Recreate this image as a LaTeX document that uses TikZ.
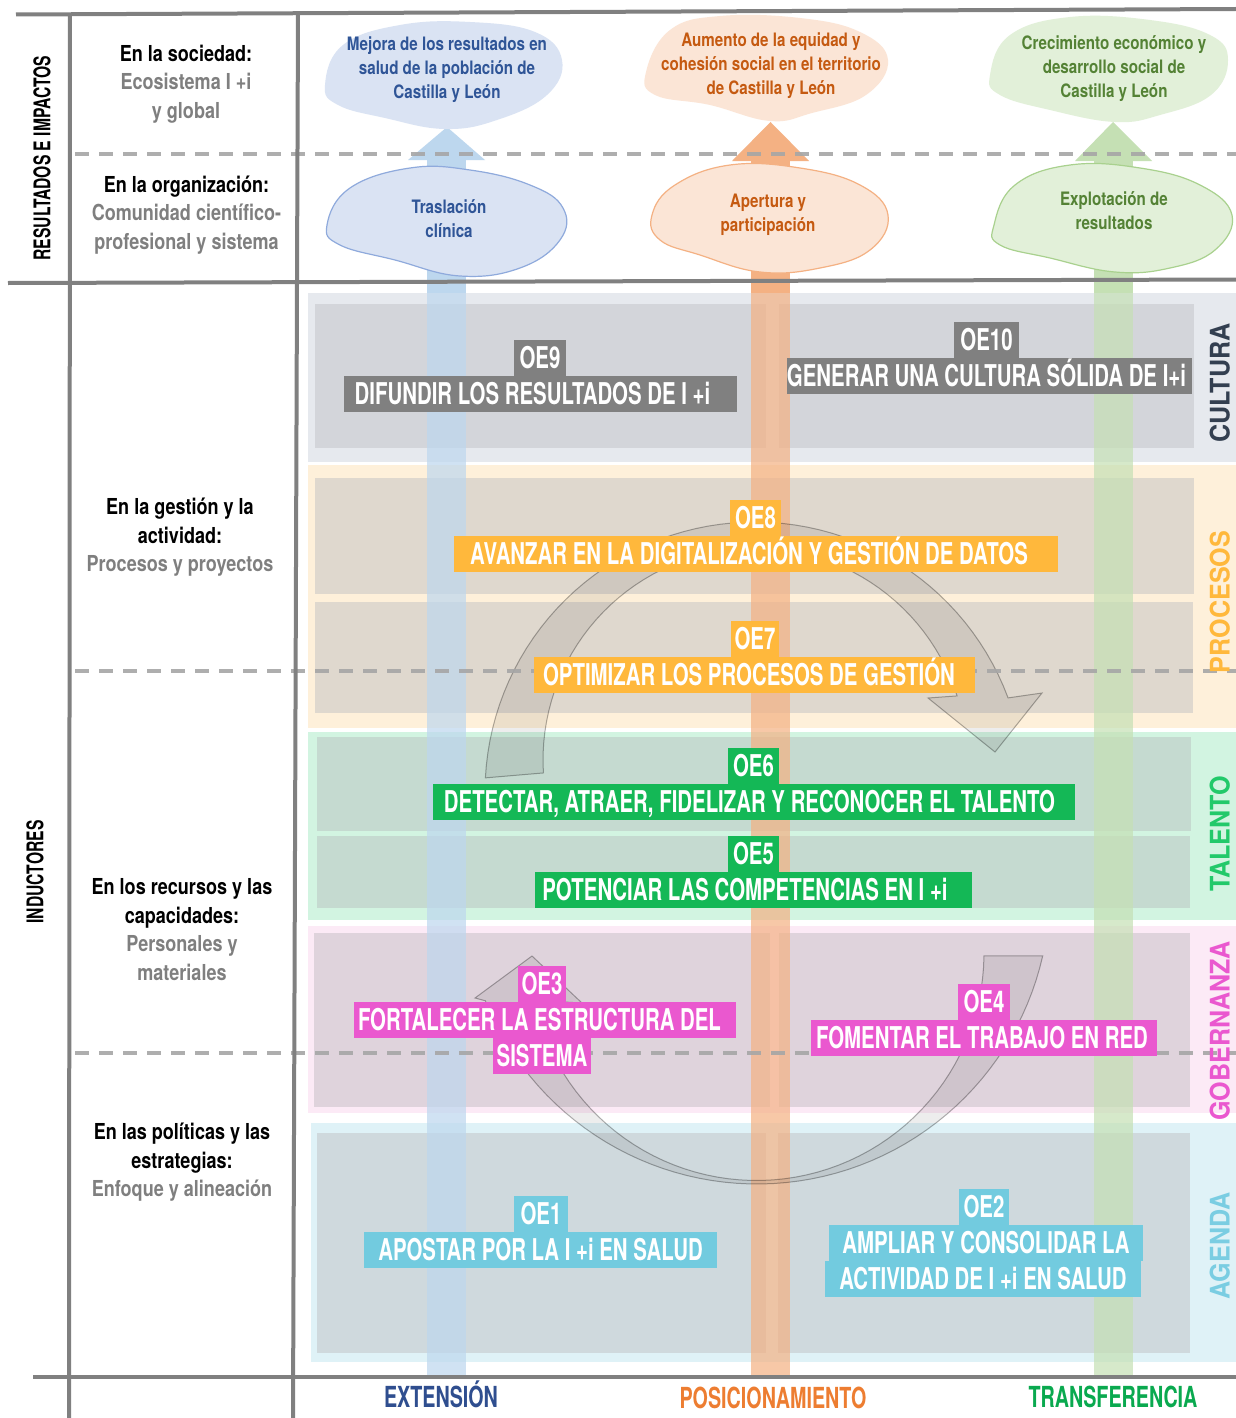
\documentclass[tikz,border=0pt]{standalone}
\usepackage{fontspec}
\setmainfont{TeX Gyre Heros}
\newfontfamily\cnd[FakeStretch=0.68]{TeX Gyre Heros}
\newfontfamily\cndw[FakeStretch=0.82]{TeX Gyre Heros}
\newfontfamily\hvb[FakeStretch=0.93]{TeX Gyre Heros}
\definecolor{lgray}{HTML}{808080}
\definecolor{dgray}{HTML}{A6A6A6}
\definecolor{txtgray}{HTML}{7F7F7F}
\definecolor{cultO}{HTML}{E6E9EE}
\definecolor{cultI}{HTML}{D3D5DA}
\definecolor{cultL}{HTML}{808080}
\definecolor{cultT}{HTML}{333F50}
\definecolor{procO}{HTML}{FEF0DA}
\definecolor{procI}{HTML}{DFD8CE}
\definecolor{procL}{HTML}{FFB83C}
\definecolor{talO}{HTML}{D2F4E1}
\definecolor{talI}{HTML}{C5DAD0}
\definecolor{talL}{HTML}{14B856}
\definecolor{talT}{HTML}{22C96A}
\definecolor{gobO}{HTML}{FCEAF6}
\definecolor{gobI}{HTML}{DFD3DC}
\definecolor{gobL}{HTML}{EA58CF}
\definecolor{agO}{HTML}{DFF2F7}
\definecolor{agI}{HTML}{CFD9DD}
\definecolor{agL}{HTML}{72CBDF}
\definecolor{agT}{HTML}{7ACDE2}
\definecolor{blueS}{HTML}{BDD7EE}
\definecolor{orS}{HTML}{F4B183}
\definecolor{grS}{HTML}{C5E0B4}
\definecolor{blueF}{HTML}{DAE3F3}
\definecolor{blueB}{HTML}{8FAADC}
\definecolor{blueT}{HTML}{2F5597}
\definecolor{orF}{HTML}{FBE5D6}
\definecolor{orB}{HTML}{F4B183}
\definecolor{orT}{HTML}{C55A11}
\definecolor{grF}{HTML}{E2F0D9}
\definecolor{grB}{HTML}{A9D18E}
\definecolor{grT}{HTML}{548235}
\definecolor{extT}{HTML}{2F4E8F}
\definecolor{posT}{HTML}{ED7D31}
\definecolor{traT}{HTML}{0AA94F}
\begin{document}
\begin{tikzpicture}[x=1pt,y=-1pt,
  frame/.style={draw=lgray, line width=4pt},
  dashl/.style={draw=dgray, line width=3.5pt, dash pattern=on 14pt off 10pt, opacity=0.9},
  oelbl/.style={fill=#1, text=white, inner sep=0pt, minimum height=36pt,
     text height=21.5pt, text depth=0pt, font=\cnd\bfseries\fontsize{30}{30}\selectfont},
  blobtxt/.style={text=#1, align=center, inner sep=0pt, font=\cndw\bfseries\fontsize{18.5}{24}\selectfont},
  lefttxt/.style={align=center, inner sep=0pt, font=\cndw\bfseries\fontsize{22}{28.5}\selectfont},
  sidetxt/.style={text=#1, rotate=90, inner sep=0pt, text height=19pt, text depth=0pt,
     font=\hvb\bfseries\fontsize{27}{27}\selectfont},
  axistxt/.style={text=black, rotate=90, inner sep=0pt, font=\cnd\bfseries\fontsize{23}{23}\selectfont},
  bottxt/.style={text=#1, anchor=base, inner sep=0pt, font=\cnd\bfseries\fontsize{29}{29}\selectfont},
  cyc/.style={fill=black, fill opacity=0.07, draw=black, draw opacity=0.3, line width=1pt},
  ]
\useasboundingbox (0,0) rectangle (1236,1418);
\fill[white] (0,0) rectangle (1236,1418);

% ---------- bands ----------
\fill[cultO] (308,293) rectangle (1236,462);
\fill[cultI] (315,304) rectangle (766,448);
\fill[cultI] (779,304) rectangle (1194,448);
\fill[procO] (308,465) rectangle (1236,728);
\fill[procI] (315,478) rectangle (1194,594);
\fill[procI] (315,602) rectangle (1193,713);
\fill[talO] (308,732) rectangle (1236,920);
\fill[talI] (317,737) rectangle (1191,831);
\fill[talI] (317,836) rectangle (1190,908);
\fill[gobO] (308,926) rectangle (1236,1113);
\fill[gobI] (314,933) rectangle (770,1107);
\fill[gobI] (779,933) rectangle (1190,1107);
\fill[agO] (311,1123) rectangle (1236,1362);
\fill[agI] (317,1133) rectangle (766,1353);
\fill[agI] (778,1133) rectangle (1190,1353);

% ---------- vertical shafts ----------
\fill[blueS] (427,160) rectangle (466,293);
\fill[blueS, opacity=0.7] (427,293) rectangle (466,1377);
\fill[blueS] (408,160) -- (447,127) -- (485,160) -- cycle;
\fill[orS] (751,160) rectangle (790,293);
\fill[orS, opacity=0.7] (751,293) rectangle (790,1378);
\fill[orS] (732,161) -- (770.5,122) -- (809,161) -- cycle;
\fill[grS] (1094,160) rectangle (1133,293);
\fill[grS, opacity=0.7] (1094,293) rectangle (1133,1377);
\fill[grS] (1075,161) -- (1113,122) -- (1152,161) -- cycle;

% ---------- cycle arrows ----------
\draw[cyc] plot[domain=183:339.6,samples=60] ({755+270*cos(\x)},{792+270*sin(\x)})
   -- (1042,693) -- (995,752) -- (928,698)
   -- plot[domain=342.4:176.5,samples=60] ({755+212*cos(\x)},{760+212*sin(\x)}) -- cycle;
\draw[cyc] plot[domain=12.8:158,samples=60] ({757+293*cos(\x)},{891+293*sin(\x)})
   -- (475,998) -- (532,956) -- (582,1003)
   -- plot[domain=168:0.75,samples=60] ({756.5+227.5*cos(\x)},{953+227.5*sin(\x)}) -- cycle;

% ---------- blobs ----------
\fill[blueF] plot[smooth cycle, tension=0.7] coordinates {(325,85) (343,45) (400,25) (470,22) (535,32) (562,60) (547,95) (497,120) (445,129) (385,118) (338,105)};
\filldraw[fill=blueF, draw=blueB, line width=1.2pt] plot[smooth cycle, tension=0.7] coordinates {(327,225) (350,188) (410,168) (470,170) (530,185) (563,208) (560,240) (520,268) (460,276) (395,260) (340,245)};
\fill[orF] plot[smooth cycle, tension=0.7] coordinates {(646,72) (670,30) (720,16) (800,18) (860,32) (888,60) (866,95) (812,113) (770,121) (710,105) (655,95)};
\filldraw[fill=orF, draw=orB, line width=1.2pt] plot[smooth cycle, tension=0.7] coordinates {(652,215) (675,185) (730,165) (800,168) (860,185) (888,215) (870,250) (820,268) (760,272) (700,255) (660,240)};
\fill[grF] plot[smooth cycle, tension=0.7] coordinates {(990,75) (1010,35) (1070,17) (1150,20) (1210,35) (1228,60) (1211,95) (1160,115) (1115,122) (1050,110) (1000,95)};
\filldraw[fill=grF, draw=grB, line width=1.2pt] plot[smooth cycle, tension=0.7] coordinates {(994,225) (1015,185) (1070,165) (1140,168) (1200,185) (1232,215) (1215,250) (1170,268) (1115,272) (1050,258) (1000,245)};

\node[blobtxt=blueT] (b1) at (447,70) {Mejora de los resultados en\\salud de la población de\\Castilla y León};
\node[blobtxt=blueT] (b2) at (449,219) {Traslación\\clínica};
\node[blobtxt=orT] (o1) at (771,66) {Aumento de la equidad y\\cohesión social en el territorio\\de Castilla y León};
\node[blobtxt=orT] (o2) at (768,215) {Apertura y\\participación};
\node[blobtxt=grT] (g1) at (1114,69) {Crecimiento económico y\\desarrollo social de\\Castilla y León};
\node[blobtxt=grT] (g2) at (1114,211) {Explotación de\\resultados};

% ---------- dashed lines ----------
\draw[dashl] (75,154) -- (1236,154);
\draw[dashl] (75,671) -- (1236,671);
\draw[dashl] (75,1053) -- (1236,1053);

% ---------- frame ----------
\draw[frame] (16,14.5) -- (1236,9);
\draw[frame] (8,283) -- (1236,279.5);
\draw[frame] (33,1377) -- (1236,1377);
\draw[frame] (70,14) -- (69,1418);
\draw[frame] (298,14) -- (297,282) -- (293,1418);

% ---------- left column ----------
\node[axistxt] (ri) at (42,158) {RESULTADOS E IMPACTOS};
\node[axistxt] (ind) at (35,872) {INDUCTORES};
\node[lefttxt] (l1) at (186,84) {En la sociedad:\\\textcolor{txtgray}{Ecosistema I +i}\\\textcolor{txtgray}{y global}};
\node[lefttxt] (l2) at (186.5,215) {En la organización:\\\textcolor{txtgray}{Comunidad científico-}\\\textcolor{txtgray}{profesional y sistema}};
\node[lefttxt] (l3) at (180,537.5) {En la gestión y la\\actividad:\\\textcolor{txtgray}{Procesos y proyectos}};
\node[lefttxt] (l4) at (182,929.5) {En los recursos y las\\capacidades:\\\textcolor{txtgray}{Personales y}\\\textcolor{txtgray}{materiales}};
\node[lefttxt] (l5) at (182,1162.5) {En las políticas y las\\estrategias:\\\textcolor{txtgray}{Enfoque y alineación}};

% ---------- side labels ----------
\node[sidetxt=cultT] (sc) at (1220,383) {CULTURA};
\node[sidetxt=procL] (sp) at (1220,602) {PROCESOS};
\node[sidetxt=talT] (st) at (1220,834) {TALENTO};
\node[sidetxt=gobL] (sg) at (1220,1031) {GOBERNANZA};
\node[sidetxt=agT] (sa) at (1220,1246) {AGENDA};

% ---------- OE labels ----------
\node[oelbl=cultL, minimum width=52pt] (oe9c) at (540,358) {OE9};
\node[oelbl=cultL, minimum width=393pt] (oe9) at (540.5,394) {DIFUNDIR LOS RESULTADOS DE I +i\hspace*{16pt}};
\node[oelbl=cultL, minimum width=65pt] (oe10c) at (986.5,340) {OE10};
\node[oelbl=cultL, minimum width=397pt] (oe10) at (989.5,376) {GENERAR UNA CULTURA SÓLIDA DE I+i\hspace*{6pt}};
\node[oelbl=procL, minimum width=51pt] (oe8c) at (755.5,518) {OE8};
\node[oelbl=procL, minimum width=604pt] (oe8) at (756,554) {AVANZAR EN LA DIGITALIZACIÓN Y GESTIÓN DE DATOS\hspace*{14pt}};
\node[oelbl=procL, minimum width=48pt] (oe7c) at (755,639) {OE7};
\node[oelbl=procL, minimum width=441pt] (oe7) at (754.5,675) {OPTIMIZAR LOS PROCESOS DE GESTIÓN\hspace*{11pt}};
\node[oelbl=talL, minimum width=51pt] (oe6c) at (753.5,766) {OE6};
\node[oelbl=talL, minimum width=642pt] (oe6) at (754,802) {DETECTAR, ATRAER, FIDELIZAR Y RECONOCER EL TALENTO\hspace*{9pt}};
\node[oelbl=talL, minimum width=51pt] (oe5c) at (753.5,854) {OE5};
\node[oelbl=talL, minimum width=437pt] (oe5) at (753.5,890) {POTENCIAR LAS COMPETENCIAS EN I +i\hspace*{17pt}};
\node[oelbl=gobL, minimum width=48pt] (oe3c) at (542,984) {OE3};
\node[oelbl=gobL, minimum width=382pt] (oe3) at (545,1020) {FORTALECER LA ESTRUCTURA DEL\hspace*{11pt}};
\node[oelbl=gobL, minimum width=98pt] (oe3b) at (542,1055.5) {SISTEMA};
\node[oelbl=gobL, minimum width=52pt] (oe4c) at (984,1002) {OE4};
\node[oelbl=gobL, minimum width=346pt] (oe4) at (984,1037.5) {FOMENTAR EL TRABAJO EN RED\hspace*{4pt}};
\node[oelbl=agL, minimum width=54pt] (oe1c) at (541,1214) {OE1};
\node[oelbl=agL, minimum width=353pt] (oe1) at (540.5,1250) {APOSTAR POR LA I +i EN SALUD};
\node[oelbl=agL, minimum width=50pt] (oe2c) at (984,1207) {OE2};
\node[oelbl=agL, minimum width=314pt] (oe2) at (986,1243) {AMPLIAR Y CONSOLIDAR LA};
\node[oelbl=agL, minimum width=316pt] (oe2b) at (983,1279) {ACTIVIDAD DE I +i EN SALUD};

% ---------- bottom labels ----------
\node[bottxt=extT] (ext) at (441,1407) {EXTENSIÓN};
\node[bottxt=posT] (pos) at (773,1408) {POSICIONAMIENTO};
\node[bottxt=traT] (tra) at (1113,1407) {TRANSFERENCIA};
\end{tikzpicture}
\end{document}
